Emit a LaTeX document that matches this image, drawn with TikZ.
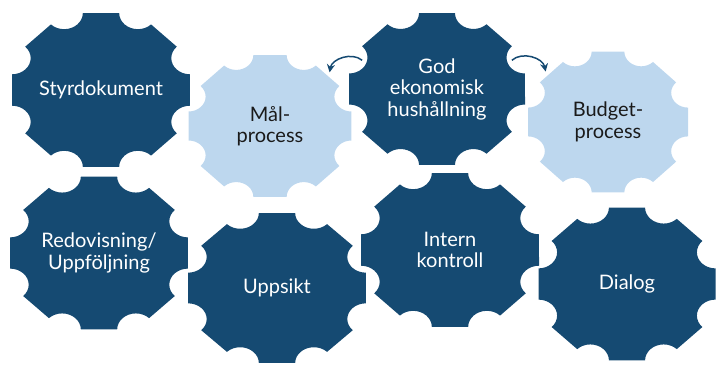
\documentclass[tikz,border=0pt]{standalone}
\usepackage{fontspec}
\setmainfont{Lato}
\usepackage{tikz}
\usetikzlibrary{shapes,arrows,arrows.meta,positioning,calc}
\usepackage{xcolor}

\definecolor{cogdark}{HTML}{154A72}
\definecolor{coglight}{HTML}{BDD7EE}
\definecolor{cogink}{HTML}{1A1A1A}

% cogwheel: name, centre, half width, half height, style, text
\newcommand{\cogwheel}[6]{%
  \begin{scope}[shift={(#2)}, xscale=#3, yscale=#4]
    \fill[#5] ($(22.5:1.0824)+(-90:0.21)$)
      \foreach \t in {22.5,67.5,112.5,157.5,202.5,247.5,292.5,337.5}{
        -- ($(\t:1.0824)+(\t-112.5:0.21)$)
        arc[start angle=\t-112.5, end angle=\t-247.5, radius=0.21]}
      -- cycle;
  \end{scope}
  \node[#5 text] (#1) at (#2) {#6};
}

\begin{document}
\begin{tikzpicture}[
    x=1pt, y=1pt,
    darkcog/.style={fill=cogdark},
    lightcog/.style={fill=coglight},
    cogtext/.style={circle, minimum size=160pt, inner sep=0pt, align=center,
        font=\fontsize{20}{21.5}\selectfont},
    darkcog text/.style={cogtext, text=white},
    lightcog text/.style={cogtext, text=cogink},
    arrow/.style={-{Stealth[length=8pt, width=8pt]}, line width=1.5pt, cogdark}
]
    \useasboundingbox (0,0) rectangle (716,365);

    % light gears first, dark ones on top
    \cogwheel{mal}{270,239}{81.5}{71}{lightcog}{Mål-\\process}
    \cogwheel{budget}{608,243}{80}{70.5}{lightcog}{Budget-\\process}

    \cogwheel{styr}{101,275}{89}{77}{darkcog}{Styrdokument}
    \cogwheel{god}{437,276}{88}{76}{darkcog}{God\\ekonomisk\\hushållning}
    \cogwheel{redov}{99,112}{89}{76.5}{darkcog}{Redovisning/\\Uppföljning}
    \cogwheel{uppsikt}{277,77}{89}{75}{darkcog}{Uppsikt}
    \cogwheel{intern}{450,115}{89}{77}{darkcog}{Intern\\kontroll}
    \cogwheel{dialog}{627,81}{88.5}{76.5}{darkcog}{Dialog}

    \draw[arrow] (god.159) to[bend right=60] (mal.42);
    \draw[arrow] (god.21) to[bend left=60] (budget.141);
\end{tikzpicture}
\end{document}
